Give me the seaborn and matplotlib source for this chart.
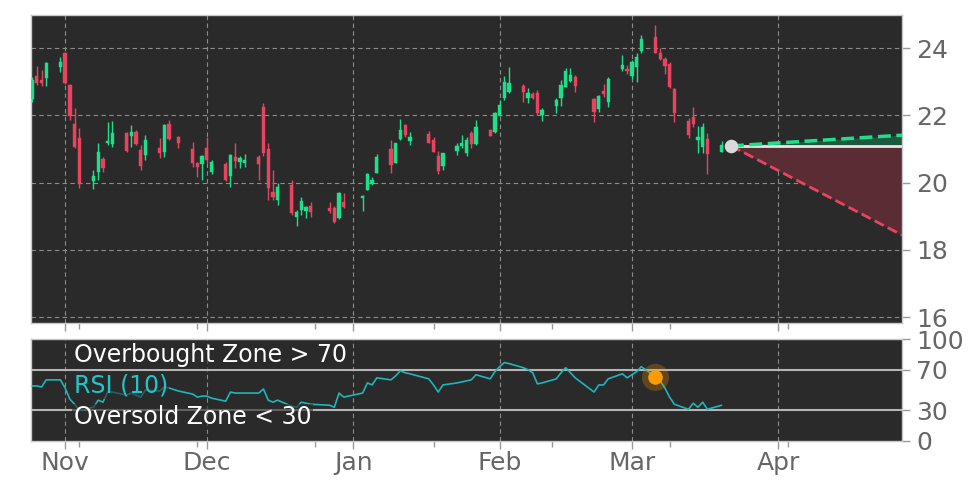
import matplotlib
matplotlib.use("Agg")
import numpy as np
import pandas as pd
import matplotlib.pyplot as plt
import matplotlib.dates as mdates
import matplotlib.ticker as mticker
import seaborn as sns

#------------------------------ data ------------------------------
holidays = ["2022-11-24", "2022-12-26", "2023-01-02", "2023-01-16", "2023-02-20"]
trade_dates = pd.bdate_range("2022-10-25", "2023-03-20", freq="C", holidays=holidays)

opens = [22.48, 23.17, 23.05, 23.11,
         23.44, 23.85, 22.90, 21.74, 21.33,
         20.05, 20.31, 20.70, 21.18, 21.15,
         21.47, 21.38, 21.50, 20.97, 20.82,
         21.03, 20.91, 21.74, 21.36,
         21.00, 20.58, 20.55, 21.03, 20.31,
         20.55, 20.20, 20.76, 20.61, 20.58,
         20.76, 22.25, 21.00, 19.72, 19.48,
         19.93, 18.98, 19.19, 19.16, 19.30,
         19.25, 19.25, 18.95, 19.42,
         19.54, 19.78, 19.96, 20.29,
         21.00, 20.58, 21.30, 21.71, 21.24,
         21.44, 21.27, 20.79, 20.49,
         20.94, 21.09, 20.88, 21.47, 21.15,
         21.56, 21.50, 22.01, 22.51, 22.69,
         22.87, 22.51, 22.63, 22.66, 22.01,
         22.28, 22.51, 22.84, 23.02, 23.14,
         22.48, 22.19, 22.72, 22.40,
         23.38, 23.35, 23.17, 23.44, 23.91,
         24.33, 23.85, 23.67, 23.52, 22.78,
         21.83, 21.95, 21.27, 21.06, 21.30,
         20.91]
highs = [23.15, 23.47, 23.35, 23.58,
         23.73, 23.88, 22.92, 22.22, 21.62,
         20.37, 21.18, 20.76, 21.80, 21.83,
         21.50, 21.71, 21.56, 21.12, 21.41,
         21.33, 21.74, 21.86, 21.38,
         21.21, 20.60, 20.82, 21.36, 20.67,
         20.61, 20.85, 21.18, 20.79, 20.85,
         20.82, 22.37, 21.18, 20.37, 19.99,
         20.08, 19.19, 19.57, 19.30, 19.42,
         19.42, 19.30, 19.72, 19.69,
         19.63, 20.29, 20.17, 20.85,
         21.27, 21.18, 21.89, 21.74, 21.50,
         21.53, 21.36, 20.94, 20.88,
         21.18, 21.41, 21.36, 21.53, 21.86,
         21.59, 22.10, 22.45, 23.17, 23.44,
         22.93, 22.81, 22.69, 22.75, 22.22,
         22.51, 23.05, 23.41, 23.41, 23.20,
         22.51, 22.60, 22.93, 23.14,
         23.79, 23.49, 23.64, 23.85, 24.39,
         24.68, 24.00, 23.73, 23.58, 22.81,
         21.92, 22.25, 21.68, 21.77, 21.47,
         21.24]
lows = [22.40, 22.90, 22.87, 22.87,
        23.29, 22.93, 21.86, 21.03, 19.84,
        19.81, 20.08, 20.31, 21.12, 21.06,
        20.91, 21.06, 21.12, 20.37, 20.67,
        20.73, 20.76, 21.27, 21.03,
        20.46, 20.17, 20.08, 20.58, 20.26,
        20.05, 19.87, 20.43, 20.43, 20.46,
        20.08, 20.79, 19.48, 19.48, 19.33,
        19.04, 18.71, 19.04, 18.95, 18.98,
        19.10, 18.80, 18.92, 19.25,
        19.16, 19.78, 19.93, 20.29,
        20.29, 20.58, 21.27, 21.36, 21.12,
        21.18, 20.91, 20.26, 20.37,
        20.82, 21.03, 20.79, 21.03, 21.12,
        21.38, 21.47, 21.98, 22.45, 22.66,
        22.40, 22.37, 22.48, 22.01, 21.83,
        22.07, 22.28, 22.84, 22.99, 22.69,
        21.80, 22.10, 22.54, 22.25,
        23.32, 23.23, 23.08, 22.99, 23.85,
        23.85, 23.64, 23.23, 22.81, 21.80,
        21.33, 21.65, 20.88, 20.88, 20.26,
        20.91]
closes = [23.05, 22.96, 22.96, 23.55,
          23.58, 22.96, 21.98, 21.06, 19.96,
          20.20, 20.91, 20.43, 21.24, 21.47,
          20.94, 21.50, 21.15, 20.49, 21.27,
          20.88, 21.71, 21.30, 21.18,
          20.58, 20.46, 20.79, 20.67, 20.61,
          20.08, 20.82, 20.64, 20.73, 20.67,
          20.55, 20.88, 19.84, 19.57, 19.87,
          19.10, 19.13, 19.45, 19.27, 19.13,
          19.16, 18.83, 19.69, 19.27,
          19.60, 20.26, 20.08, 20.76,
          20.52, 21.18, 21.56, 21.41, 21.36,
          21.18, 20.91, 20.34, 20.88,
          21.09, 21.18, 21.27, 21.15, 21.65,
          21.38, 22.07, 22.31, 22.99, 22.96,
          22.69, 22.66, 22.51, 22.07, 22.16,
          22.45, 22.90, 23.32, 23.20, 22.87,
          22.10, 22.57, 22.63, 23.08,
          23.49, 23.32, 23.58, 23.73, 24.27,
          23.85, 23.67, 23.47, 22.84, 22.07,
          21.41, 21.74, 21.36, 21.65, 20.85,
          21.12]
rsi = [54, 54, 53, 60,
       60, 52, 41, 36, 30,
       33, 40, 38, 48, 48,
       45, 47, 45, 43, 50,
       49, 53, 52, 49,
       46, 43, 44, 44, 42,
       39, 48, 47, 47, 47,
       47, 51, 40, 38, 40,
       34, 33, 38, 37, 36,
       35, 33, 47, 43,
       47, 57, 55, 62,
       60, 64, 69, 67, 66,
       61, 55, 48, 55,
       57, 58, 59, 60, 65,
       61, 68, 73, 77, 76,
       72, 70, 67, 56, 57,
       61, 67, 72, 67, 62,
       48, 55, 55, 61,
       66, 62, 65, 68, 73,
       63, 59, 52, 43, 36,
       31, 37, 33, 38, 31,
       35]

forecast_dates = ["2023-03-22 00:00", "2023-04-27 05:00"]
forecast_mid = [21.09, 21.09]
forecast_high = [21.09, 21.41]
forecast_low = [21.09, 18.44]

signal_date = "2023-03-06"
signal_rsi = 63

#------------------------------ style ------------------------------
BG = "#2a2a2a"
UP = "#1fe08a"
DOWN = "#e8435f"
TICK = "#666666"
GRID = "#8c8c8c"
DASH = (0, (4, 3))

sns.set_style("dark", {"axes.facecolor": BG, "axes.edgecolor": "#c8c8c8"})
plt.rcParams["font.family"] = ["DejaVu Sans"]

fig = plt.figure(figsize=(9.72, 4.86), dpi=100)
ax = fig.add_axes([0.032, 0.335, 0.896, 0.634])
ax2 = fig.add_axes([0.032, 0.093, 0.896, 0.209], sharex=ax)

#------------------------------ candles ------------------------------
df = pd.DataFrame({"date": trade_dates, "open": opens, "high": highs,
                   "low": lows, "close": closes, "rsi": rsi})
colors = np.where(df["close"] >= df["open"], UP, DOWN)
body = (df["close"] - df["open"]).abs().clip(lower=0.05)
ax.vlines(df["date"], df["low"], df["high"], colors=colors, lw=1, zorder=3)
ax.bar(df["date"], body, bottom=df[["open", "close"]].min(axis=1),
       width=0.7, color=colors, edgecolor=colors, linewidth=0.3, zorder=4)

#------------------------------ forecast cone ------------------------------
fc = pd.DataFrame({"date": pd.to_datetime(forecast_dates, format="%Y-%m-%d %H:%M"),
                   "mid": forecast_mid, "high": forecast_high, "low": forecast_low})
ax.fill_between(fc["date"], fc["mid"], fc["high"], color="#1c5a3f", lw=0, zorder=2)
ax.fill_between(fc["date"], fc["mid"], fc["low"], color="#5a2c33", lw=0, zorder=2)
sns.lineplot(data=fc, x="date", y="mid", ax=ax, color="#e6e6e6", lw=2, zorder=5)
sns.lineplot(data=fc, x="date", y="high", ax=ax, color=UP, lw=2.5, linestyle="--", zorder=5)
sns.lineplot(data=fc, x="date", y="low", ax=ax, color=DOWN, lw=2, linestyle="--", zorder=5)
ax.scatter(fc["date"].iloc[0], fc["mid"].iloc[0], s=95, color="#d9d9d9", lw=0, zorder=6)

#------------------------------ RSI ------------------------------
sns.lineplot(data=df, x="date", y="rsi", ax=ax2, color="#1fb5ba", lw=1.2, zorder=3)
ax2.axhline(70, color="#b4b4b4", lw=1.5, zorder=2)
ax2.axhline(30, color="#b4b4b4", lw=1.5, zorder=2)
ax2.scatter(pd.Timestamp(signal_date), signal_rsi, s=380, color="#ff9a00", alpha=0.25, lw=0, zorder=4)
ax2.scatter(pd.Timestamp(signal_date), signal_rsi, s=110, color="#ff9a00", lw=0, zorder=5)

box = dict(facecolor=BG, alpha=0.6, edgecolor="none", pad=1)
ax2.text(0.049, 0.84, "Overbought Zone > 70", transform=ax2.transAxes, color="white",
         fontsize=17, va="center", bbox=box, zorder=6)
ax2.text(0.049, 0.54, "RSI (10)", transform=ax2.transAxes, color="#1fc6cc",
         fontsize=17, va="center", bbox=box, zorder=6)
ax2.text(0.049, 0.235, "Oversold Zone < 30", transform=ax2.transAxes, color="white",
         fontsize=17, va="center", bbox=box, zorder=6)

#------------------------------ axes ------------------------------
ax.set_xlim(pd.Timestamp("2022-10-24 19:00"), pd.Timestamp("2023-04-27 05:00"))
ax.set_ylim(15.82, 24.98)
ax2.set_ylim(0, 100)

ax2.xaxis.set_major_locator(mdates.MonthLocator())
ax2.xaxis.set_major_formatter(mdates.DateFormatter("%b"))
minor = mdates.date2num(pd.date_range("2022-11-04", periods=7, freq="25D"))
ax2.xaxis.set_minor_locator(mticker.FixedLocator(minor))

ax.set_yticks([16, 18, 20, 22, 24])
ax2.set_yticks([0, 30, 70, 100])

for a in (ax, ax2):
    a.yaxis.tick_right()
    a.set_xlabel("")
    a.set_ylabel("")
    a.tick_params(axis="both", which="major", length=6, width=1, color="#999999",
                  labelsize=18, labelcolor=TICK, pad=4)
    a.tick_params(axis="x", which="minor", length=4, width=1, color="#999999")
    a.tick_params(axis="x", which="both", bottom=True)
    for s in a.spines.values():
        s.set_color("#c8c8c8")
        s.set_linewidth(1)

ax2.tick_params(axis="x", which="major", pad=1)
ax.tick_params(axis="x", labelbottom=False)
ax.grid(True, which="major", ls=DASH, color=GRID, lw=0.8)
ax2.grid(True, axis="x", which="major", ls=DASH, color=GRID, lw=0.8)
ax2.grid(False, axis="y")

fig.savefig("out.png", dpi=100, facecolor="white")
